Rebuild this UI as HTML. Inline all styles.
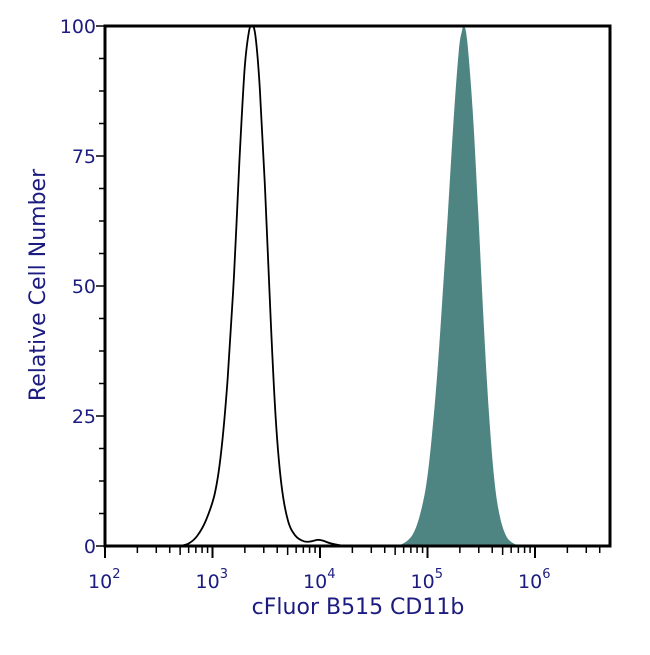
<!DOCTYPE html>
<html><head><meta charset="utf-8"><style>
body{margin:0;background:#fff;}
svg text{font-family:"DejaVu Sans","Liberation Sans",sans-serif;fill:#1c1c80;}
</style></head><body>
<svg id="chart" width="650" height="650" xmlns="http://www.w3.org/2000/svg"></svg>
<script>
const xDecades=[2,3,4,5,6];
const yTicks=[0,25,50,75,100];
const controlLogX=[2.7,2.78,2.86,2.94,3.02,3.08,3.14,3.2,3.25,3.3,3.34,3.37,3.4,3.44,3.49,3.54,3.59,3.64,3.7,3.77,3.85,3.92,3.98,4.03,4.1,4.2,4.3];
const controlY=[0,0.5,2,5,10,18,32,52,74,92,99,100,98,88,68,44,24,12,5,2,0.9,0.9,1.2,1.0,0.5,0.1,0];
const stainedLogX=[4.72,4.8,4.87,4.93,4.99,5.04,5.09,5.14,5.19,5.24,5.29,5.32,5.34,5.37,5.42,5.47,5.52,5.57,5.62,5.67,5.73,5.8,5.88];
const stainedY=[0,0.8,2.5,6,12,21,33,48,64,81,95,99,100,97,84,65,44,26,13,6,2,0.5,0];
const svg=document.getElementById('chart');
const NS='http://www.w3.org/2000/svg';
const L=105,R=610,T=26,B=546;
const xs=v=>L+(v-2)*107.5;
const ys=v=>B-(v/100)*(B-T);
function mk(tag,attrs,parent){const e=document.createElementNS(NS,tag);for(const k in attrs)e.setAttribute(k,attrs[k]);(parent||svg).appendChild(e);return e;}
function smooth(pts){
  let d='M'+pts[0][0].toFixed(1)+','+pts[0][1].toFixed(1);
  for(let i=0;i<pts.length-1;i++){
    const p0=pts[Math.max(0,i-1)],p1=pts[i],p2=pts[i+1],p3=pts[Math.min(pts.length-1,i+2)];
    const c1=[p1[0]+(p2[0]-p0[0])/6,p1[1]+(p2[1]-p0[1])/6];
    const c2=[p2[0]-(p3[0]-p1[0])/6,p2[1]-(p3[1]-p1[1])/6];
    d+=' C'+c1[0].toFixed(1)+','+Math.min(B,c1[1]).toFixed(1)+' '+c2[0].toFixed(1)+','+Math.min(B,c2[1]).toFixed(1)+' '+p2[0].toFixed(1)+','+p2[1].toFixed(1);
  }
  return d;
}
const sp=stainedLogX.map((x,i)=>[xs(x),ys(stainedY[i])]);
const s=mk('path',{d:smooth(sp)+' Z',fill:'#4e8582',stroke:'none'});


const cp=controlLogX.map((x,i)=>[xs(x),ys(controlY[i])]);
const c=mk('path',{d:smooth(cp),fill:'none',stroke:'#000','stroke-width':1.8});


const f=mk('rect',{x:L,y:T,width:R-L,height:B-T,fill:'none',stroke:'#000','stroke-width':3});


xDecades.forEach(dd=>{
  const x=xs(dd);
  mk('line',{x1:x,y1:B,x2:x,y2:B+12,stroke:'#000','stroke-width':2});
  const t=mk('text',{x:x-17,y:B+42,'font-size':19});
  
  
  t.innerHTML='10<tspan dy="-10" font-size="13">'+dd+'</tspan>';
  for(let m=2;m<=9;m++){const lx=dd+Math.log10(m);const px=xs(lx);if(px<R-3)mk('line',{x1:px,y1:B,x2:px,y2:B+(m==5?9:7),stroke:'#000','stroke-width':1.5});}
});
for(let v=0;v<=100;v+=6.25){const y=ys(v);const major=v%25===0;mk('line',{x1:L-(major?9:6),y1:y,x2:L,y2:y,stroke:'#000','stroke-width':1.5});}
yTicks.forEach(v=>{
  const t=mk('text',{x:L-9,y:ys(v)+7,'font-size':19,'text-anchor':'end'});
  
  
  t.textContent=v;
});
const xt=mk('text',{x:358,y:614,'font-size':22,'text-anchor':'middle'});


xt.textContent='cFluor B515 CD11b';
const yt=mk('text',{x:0,y:0,'font-size':22,'text-anchor':'middle',transform:'translate(45,285) rotate(-90)'});


yt.textContent='Relative Cell Number';
</script>
</body></html>
